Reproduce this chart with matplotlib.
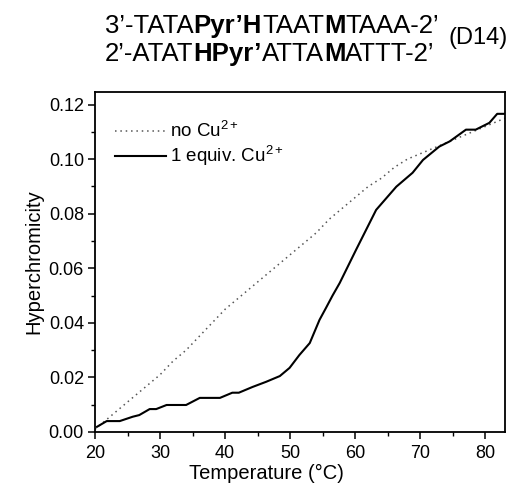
import matplotlib
matplotlib.use("Agg")
import matplotlib.pyplot as plt
from matplotlib.offsetbox import TextArea, HPacker, AnnotationBbox
from matplotlib.ticker import MultipleLocator

plt.rcParams['font.family'] = ['Liberation Sans', 'DejaVu Sans']
plt.rcParams['mathtext.fontset'] = 'custom'
plt.rcParams['mathtext.rm'] = 'Liberation Sans'
plt.rcParams['mathtext.it'] = 'Liberation Sans:italic'
plt.rcParams['mathtext.bf'] = 'Liberation Sans:bold'

# ---- data ----
temp_no_cu = [20, 22, 24, 26, 28, 30, 32, 34, 36, 38, 40, 42, 44, 46, 48, 50,
              52, 54, 56, 58, 60, 62, 64, 66, 68, 70, 72, 74, 76, 78, 80, 82, 83]
hyper_no_cu = [0.001, 0.005, 0.009, 0.013, 0.017, 0.021, 0.026, 0.030, 0.035,
               0.040, 0.045, 0.049, 0.053, 0.057, 0.061, 0.065, 0.069, 0.073,
               0.078, 0.082, 0.086, 0.090, 0.093, 0.097, 0.100, 0.102, 0.104,
               0.106, 0.108, 0.110, 0.112, 0.114, 0.115]

temp_cu = [20.3, 21.8, 23.8, 25.8, 26.8, 28.4, 29.4, 31.0, 34.0, 36.1, 39.2,
           41.1, 42.1, 44.2, 46.3, 48.4, 49.9, 51.4, 53.0, 54.5, 55.5, 56.5,
           57.6, 60.1, 63.2, 66.3, 68.8, 70.4, 72.9, 74.5, 77.0, 78.5, 80.6,
           81.8, 83.0]
hyper_cu = [0.0019, 0.0040, 0.0040, 0.0056, 0.0062, 0.0084, 0.0084, 0.0099,
            0.0099, 0.0125, 0.0125, 0.0144, 0.0144, 0.0165, 0.0184, 0.0205,
            0.0235, 0.0282, 0.0326, 0.0411, 0.0455, 0.0500, 0.0546, 0.0667,
            0.0814, 0.0899, 0.0950, 0.0997, 0.1046, 0.1065, 0.1108, 0.1108,
            0.1133, 0.1166, 0.1166]

label_no_cu = "no Cu$^{2+}$"
label_cu = "1 equiv. Cu$^{2+}$"
title_line1 = [("3’-TATA", "normal"), ("Pyr’H", "bold"), ("TAAT", "normal"),
               ("M", "bold"), ("TAAA-2’", "normal")]
title_line2 = [("2’-ATAT", "normal"), ("HPyr’", "bold"), ("ATTA", "normal"),
               ("M", "bold"), ("ATTT-2’", "normal")]
duplex_tag = "(D14)"

W, H = 513, 487
fig = plt.figure(figsize=(W / 100, H / 100), dpi=100)
ax = fig.add_axes([95 / W, (H - 432) / H, (505 - 95) / W, (432 - 92) / H])

ax.plot(temp_no_cu, hyper_no_cu, color='#555555', lw=1.1,
        linestyle=(0, (1, 2.5)), label=label_no_cu)
ax.plot(temp_cu, hyper_cu, color='black', lw=1.5, label=label_cu)

ax.set_xlim(20, 83)
ax.set_ylim(0, 0.1246)
ax.xaxis.set_major_locator(MultipleLocator(10))
ax.xaxis.set_minor_locator(MultipleLocator(5))
ax.yaxis.set_major_locator(MultipleLocator(0.02))
ax.yaxis.set_minor_locator(MultipleLocator(0.01))
ax.yaxis.set_major_formatter(plt.FuncFormatter(lambda v, p: f"{v:.2f}"))
ax.tick_params(which='major', direction='out', length=5, width=1.1,
               labelsize=13)
ax.tick_params(axis='x', which='major', pad=4)
ax.tick_params(axis='y', which='major', pad=3)
ax.tick_params(which='minor', direction='out', length=3, width=1.0)
for s in ax.spines.values():
    s.set_linewidth(1.3)

ax.set_xlabel("Temperature (°C)", fontsize=14.5)
ax.xaxis.set_label_coords((266 - 95) / 410, -(464 - 432) / 340)
ax.xaxis.label.set_va('top')
ax.set_ylabel("Hyperchromicity", fontsize=14.5, labelpad=4)

leg = ax.legend(loc='upper left', bbox_to_anchor=(0.04, 0.925), frameon=False,
                fontsize=13.5, handlelength=2.7, handletextpad=0.2,
                labelspacing=0.15, borderpad=0.2, borderaxespad=0)


def line_box(parts):
    areas = [TextArea(t, textprops=dict(fontsize=18.5, fontweight=w,
                                        family='Liberation Sans'))
             for t, w in parts]
    return HPacker(children=areas, align='baseline', pad=0, sep=0)


for parts, base in ((title_line1, 33), (title_line2, 61)):
    ab = AnnotationBbox(line_box(parts), (105, H - base - 5.4),
                        xycoords='figure pixels', box_alignment=(0, 0),
                        frameon=False, pad=0)
    fig.add_artist(ab)

fig.text(449 / W, 1 - 38 / H, duplex_tag, fontsize=17, va='center', ha='left')

fig.savefig("out.png", dpi=100)
